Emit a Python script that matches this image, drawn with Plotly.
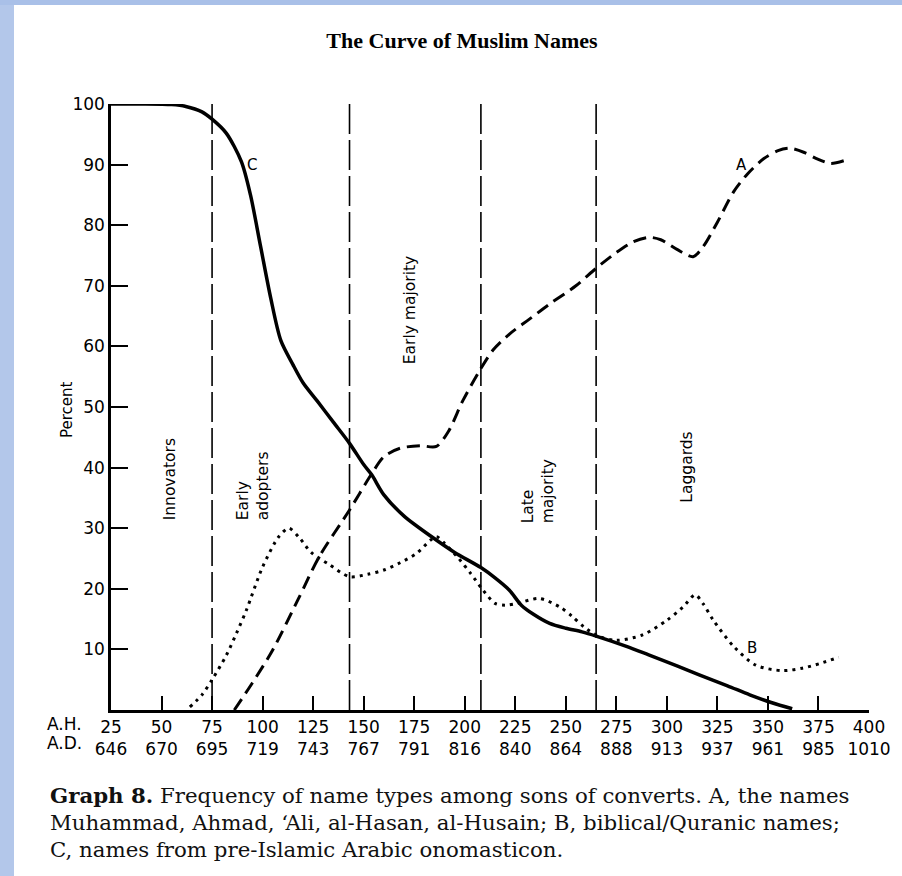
import plotly.graph_objects as go

# ---- data (A.H. years vs percent) ----
ah_ticks = [25, 50, 75, 100, 125, 150, 175, 200, 225, 250, 275, 300, 325, 350, 375, 400]
ad_ticks = [646, 670, 695, 719, 743, 767, 791, 816, 840, 864, 888, 913, 937, 961, 985, 1010]
y_ticks = [10, 20, 30, 40, 50, 60, 70, 80, 90, 100]

c_x = [25, 40, 55, 62, 70, 75, 82, 89.5, 94, 99, 104, 109, 115, 120, 127, 135, 143, 150, 154, 160,
       170, 184, 195, 208, 215, 222, 228, 234, 242, 250, 258, 265, 280, 291, 305, 316, 330, 341, 352, 362]
c_y = [100, 100, 99.9, 99.6, 98.7, 97.5, 95.2, 90.5, 85, 76.5, 68, 61, 57, 54, 51, 47.5, 44, 40.5, 38.8, 35.5,
       32, 28.5, 26, 23.5, 21.8, 19.8, 17.3, 15.8, 14.3, 13.5, 12.9, 12.2, 10.5, 9.1, 7.3, 5.8, 4, 2.5, 1.2, 0.2]

a_x = [86, 95, 105, 117.5, 128, 143, 154, 160, 168, 178, 186, 192, 199, 207, 214, 222, 232, 242, 255, 265,
       275, 283, 291, 297, 305, 313, 318, 325, 333, 340, 348, 355, 361, 368, 374, 381, 389]
a_y = [0, 4.5, 9.9, 18.2, 25.3, 33, 39, 41.8, 43.2, 43.6, 43.5, 46, 51, 55.8, 59.4, 62, 64.5, 67, 70, 72.9,
       75.5, 77.2, 78, 77.6, 76, 74.8, 76.5, 80.5, 85.5, 88.5, 91, 92.3, 92.7, 92, 91, 90.2, 90.8]

b_x = [64, 70, 75, 82, 87, 92, 100, 108, 113, 118, 124, 133, 143, 152, 160, 168, 176, 183, 186, 190,
       197, 203, 209, 215, 220, 226, 237, 247, 253, 259, 266, 275, 288, 300, 308, 314, 318, 323, 333, 344,
       357, 367, 376, 385]
b_y = [0.5, 2.5, 5, 9, 12.6, 16.5, 23.6, 28.6, 30, 28.5, 26, 24, 22, 22.4, 23.1, 24.3, 25.8, 28, 28.6, 27.5,
       25, 22.5, 19.8, 17.6, 17.3, 17.6, 18.4, 17, 15.5, 13.7, 12.2, 11.5, 12.4, 14.8, 17, 19, 17.5, 14.8, 10.5, 7.4,
       6.5, 6.9, 7.7, 8.7]

phase_bounds = [75, 143, 208, 265]
phase_names = ["Innovators", "Early<br>adopters", "Early majority", "Late<br>majority", "Laggards"]
phase_x = [54, 95, 173, 236, 310]
phase_y = [38, 37, 66, 36, 40]

curve_labels = ["A", "B", "C"]
curve_label_x = [337, 342, 95]
curve_label_y = [90, 10.3, 90]

SANS = "DejaVu Sans"
SERIF = "Liberation Serif"
CAPTION_FONT = "DejaVu Serif"

fig = go.Figure()

for xv in phase_bounds:
    fig.add_trace(go.Scatter(x=[xv, xv], y=[0, 100], mode="lines",
                             line=dict(color="black", width=1.6, dash="30px,6px"),
                             hoverinfo="skip", showlegend=False))

fig.add_trace(go.Scatter(x=c_x, y=c_y, mode="lines", line=dict(color="black", width=3.5, shape="spline", smoothing=0.8),
                         showlegend=False, name="C"))
fig.add_trace(go.Scatter(x=a_x, y=a_y, mode="lines", line=dict(color="black", width=3, shape="spline", smoothing=0.8, dash="13px,7px"),
                         showlegend=False, name="A"))
fig.add_trace(go.Scatter(x=b_x, y=b_y, mode="lines", line=dict(color="black", width=3, shape="spline", smoothing=0.8, dash="3px,5px"),
                         showlegend=False, name="B"))

annotations = []
for name, x, y in zip(phase_names, phase_x, phase_y):
    annotations.append(dict(x=x, y=y, xref="x", yref="y", text=name, showarrow=False, textangle=-90,
                            align="left", xanchor="center", yanchor="middle",
                            font=dict(family=SANS, size=15.5, color="black")))
for name, x, y in zip(curve_labels, curve_label_x, curve_label_y):
    annotations.append(dict(x=x, y=y, xref="x", yref="y", text=name, showarrow=False,
                            font=dict(family=SANS, size=15, color="black")))

# axis labels
annotations.append(dict(x=(67 - 111) / 758, y=0.495, xref="paper", yref="paper", text="Percent", textangle=-90,
                        xanchor="center", yanchor="middle",
                        showarrow=False, font=dict(family=SANS, size=15, color="black")))
annotations.append(dict(x=(45 - 111) / 758, y=(710 - 724) / 606, xref="paper", yref="paper", text="A.H.", showarrow=False,
                        xanchor="left", yanchor="middle", font=dict(family=SANS, size=17, color="black")))
annotations.append(dict(x=(45 - 111) / 758, y=(710 - 743) / 606, xref="paper", yref="paper", text="A.D.", showarrow=False,
                        xanchor="left", yanchor="middle", font=dict(family=SANS, size=17, color="black")))

caption = [
    "<b>Graph 8.</b> Frequency of name types among sons of converts. A, the names",
    "Muhammad, Ahmad, ‘Ali, al-Hasan, al-Husain; B, biblical/Quranic names;",
    "C, names from pre-Islamic Arabic onomasticon.",
]
for i, line in enumerate(caption):
    annotations.append(dict(x=(48 - 111) / 758, y=(710 - (795 + 27 * i)) / 606, xref="paper", yref="paper", text=line,
                            showarrow=False, xanchor="left", yanchor="middle",
                            font=dict(family=CAPTION_FONT, size=21.3, color="#111")))

shapes = [
    dict(type="rect", xref="paper", yref="paper", x0=-0.2, x1=(14 - 111) / 758, y0=-0.3, y1=1.2,
         fillcolor="#b3c7ea", line=dict(width=0), layer="below"),
    dict(type="rect", xref="paper", yref="paper", x0=-0.2, x1=1.1, y0=(710 - 5) / 606, y1=1.2,
         fillcolor="#a9c0e8", line=dict(width=0), layer="below"),
]

fig.update_layout(
    width=902, height=876,
    margin=dict(l=111, r=33, t=104, b=166),
    paper_bgcolor="white", plot_bgcolor="white",
    title=dict(text="<b>The Curve of Muslim Names</b>", x=462 / 902, xanchor="center", y=1 - 40 / 876,
               yanchor="middle", font=dict(family=SERIF, size=22, color="black")),
    annotations=annotations, shapes=shapes,
    xaxis=dict(range=[25, 400], tickvals=ah_ticks,
               ticktext=[f"{h}<br>{d}" for h, d in zip(ah_ticks, ad_ticks)],
               ticks="inside", ticklen=14, tickwidth=2, tickcolor="black",
               showline=True, linewidth=2.5, linecolor="black", showgrid=False, zeroline=False,
               tickfont=dict(family=SANS, size=17, color="black")),
    yaxis=dict(range=[0, 100], tickvals=y_ticks, ticks="inside", ticklen=17, tickwidth=2, tickcolor="black",
               showline=True, linewidth=2.5, linecolor="black", showgrid=False, zeroline=False,
               tickfont=dict(family=SANS, size=17, color="black")),
)

fig.write_html("out.html", config={"displayModeBar": False},
               post_script="document.body.style.margin='0';")
